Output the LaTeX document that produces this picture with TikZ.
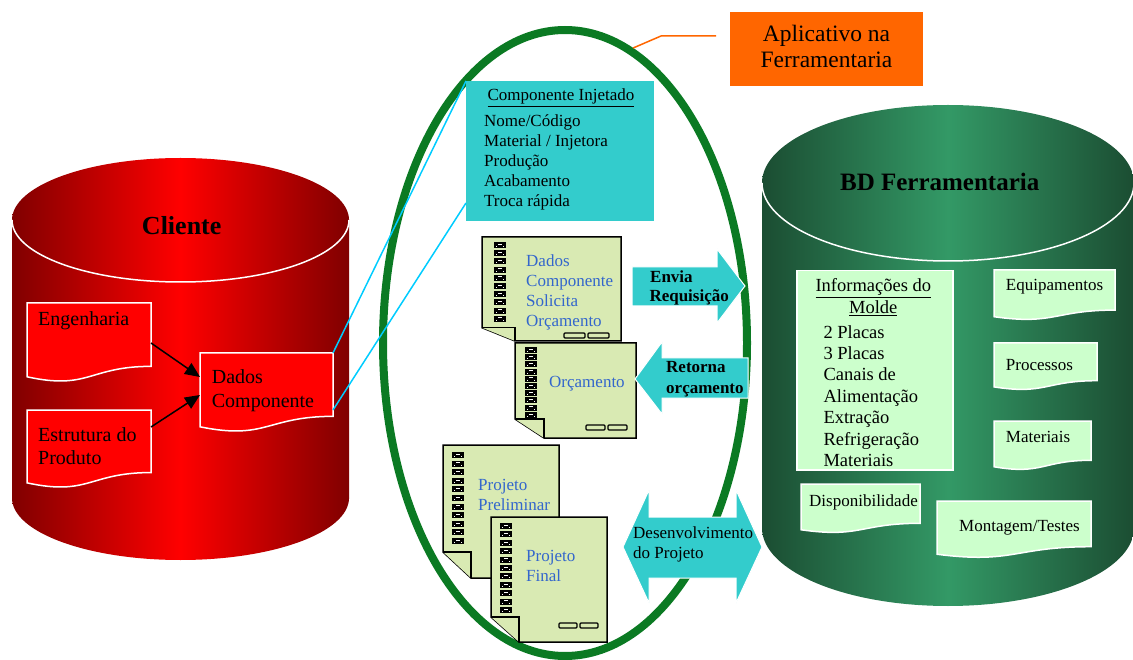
\documentclass[tikz,border=0pt]{standalone}
\usepackage{fontspec}
\setmainfont{Liberation Serif}
\usetikzlibrary{arrows.meta,shapes.geometric}
\definecolor{dkred}{RGB}{128,0,0}
\definecolor{brred}{RGB}{255,0,0}
\definecolor{dkgreen}{RGB}{27,77,50}
\definecolor{mdgreen}{RGB}{51,153,102}
\definecolor{ringgreen}{RGB}{11,122,35}
\definecolor{cyanfill}{RGB}{51,204,204}
\definecolor{linkcyan}{RGB}{0,204,255}
\definecolor{orangefill}{RGB}{255,102,0}
\definecolor{docgreen}{RGB}{217,234,179}
\definecolor{mintfill}{RGB}{204,255,204}
\definecolor{bluetext}{RGB}{51,102,204}
\newcommand\fsz[1]{\fontsize{#1}{#1}\selectfont}
% wave-bottom document: style, x1, y1, x2, y2
\newcommand\wavedoc[5]{%
  \path[#1] (#2,#3) -- (#4,#3) -- (#4,{#3+0.802*(#5-#3)})
    .. controls ({(#2+#4)/2},{#3+0.802*(#5-#3)}) and ({(#2+#4)/2},{#3+1.107*(#5-#3)}) ..
    (#2,{#3+0.934*(#5-#3)}) -- cycle;}
% folded-corner page: x1, y1, x2, y2, xf, yf
\newcommand\folddoc[6]{%
  \path[fdoc] (#1,#2) -- (#3,#2) -- (#3,#4) -- (#5,#4) -- (#1,#6) -- cycle;
  \path[fdoc] (#1,#6) -- (#5,#6) -- (#5,#4);}
% rack of small blocks: x, y0, n, spacing
\newcommand\rack[4]{%
  \foreach \k in {1,...,#3}{%
    \fill[black] (#1,{#2+(\k-1)*#4}) rectangle ++(12,6);
    \draw[white,line width=0.6] ({#1+4},{#2+(\k-1)*#4+2}) -- ++(4,0);
    \fill[white] ({#1+2},{#2+(\k-1)*#4+4}) rectangle ++(1,1);
    \fill[white] ({#1+9},{#2+(\k-1)*#4+4}) rectangle ++(1,1);}}
% two small tabs: x, y, width
\newcommand\tabs[3]{%
  \draw[fdoc,line width=1.2,rounded corners=1] (#1,#2) rectangle ++(#3,5);
  \draw[fdoc,line width=1.2,rounded corners=1] ({#1+#3+3},#2) rectangle ++(#3,5);}
\begin{document}
\begin{tikzpicture}[x=1pt,y=-1pt,
  txt/.style={inner sep=0,anchor=base west,font=\fsz{17}},
  ctxt/.style={txt,anchor=base},
  redcyl/.style={left color=dkred,right color=dkred,middle color=brred},
  bdcyl/.style={left color=dkgreen,right color=dkgreen,middle color=mdgreen},
  reddoc/.style={fill=brred,draw=white,line width=1.5},
  mintdoc/.style={fill=mintfill,draw=white,line width=1.5},
  fdoc/.style={fill=docgreen,draw=black,line width=1.5,line join=miter},
  bigarrow/.style={fill=cyanfill,draw=white,line width=1},
  link/.style={linkcyan,line width=1.5},
  flow/.style={-{Triangle[length=15pt,width=13pt]},line width=1.5,black},
  blue/.style={txt,text=bluetext}]
\useasboundingbox (0,0) rectangle (1133,660);

% ---------------- Cliente cylinder
\shade[redcyl] (12,220) rectangle (349,498);
\shade[redcyl] (180.5,498) ellipse[x radius=168.5,y radius=62];
\shade[redcyl] (180.5,220) ellipse[x radius=168.5,y radius=62];
\draw[white,line width=1.5] (12,220) arc[start angle=180,end angle=0,x radius=168.5,y radius=62];
\node[ctxt,font=\bfseries\fsz{26}] (cliente) at (181.7,235) {Cliente};

\wavedoc{reddoc}{27}{303}{151}{382}
\node[txt,font=\fsz{20}] (eng) at (38,325.7) {Engenharia};
\wavedoc{reddoc}{27}{410}{151}{488}
\node[txt,font=\fsz{20}] (est1) at (38,441.7) {Estrutura do};
\node[txt,font=\fsz{20}] (est2) at (38,464.5) {Produto};
\wavedoc{reddoc}{200}{353}{333}{432}
\node[txt,font=\fsz{20}] (dad1) at (211.7,383.3) {Dados};
\node[txt,font=\fsz{20}] (dad2) at (211.7,407.7) {Componente};

\coordinate (engE) at (151,343);
\coordinate (estE) at (151,427);
\coordinate (dadW1) at (200,377);
\coordinate (dadW2) at (200,395);
\coordinate (dadNE) at (333,353);
\coordinate (dadE) at (333,410);
\draw[flow] (engE) -- (dadW1);
\draw[flow] (estE) -- (dadW2);

% ---------------- BD cylinder
\shade[bdcyl] (762,183) rectangle (1134,528);
\shade[bdcyl] (948,528) ellipse[x radius=186,y radius=78];
\shade[bdcyl] (948,183) ellipse[x radius=186,y radius=78];
\draw[white,line width=1.5] (762,183) arc[start angle=180,end angle=0,x radius=186,y radius=78];
\node[ctxt,font=\bfseries\fsz{25}] (bd) at (939.7,191) {BD Ferramentaria};

\node[fill=mintfill,draw=white,line width=1.5,minimum width=156,minimum height=199,anchor=north west,inner sep=0] (molde) at (796,270) {};
\node[ctxt,font=\fsz{18.5}] (m0) at (873.3,291.7) {\underline{Informações do}};
\node[ctxt,font=\fsz{18.5}] (m00) at (873.3,313.3) {\underline{Molde}};
\foreach \t [count=\i] in {2 Placas,3 Placas,Canais de,Alimentação,Extração,Refrigeração,Materiais}
  \node[txt,font=\fsz{18.5}] (m\i) at (823.3,{316.8+21.4*\i}) {\t};

\wavedoc{mintdoc}{994}{270}{1115}{320}
\node[txt] (equip) at (1005.7,290.7) {Equipamentos};
\wavedoc{mintdoc}{994}{343}{1097}{390}
\node[txt] (proc) at (1005.7,370.7) {Processos};
\wavedoc{mintdoc}{994}{421}{1091}{470}
\node[txt] (mat) at (1005.7,442.3) {Materiais};
\wavedoc{mintdoc}{801}{484}{920}{533}
\node[txt] (disp) at (809,506) {Disponibilidade};
\wavedoc{mintdoc}{937}{501}{1091}{558}
\node[txt] (mont) at (959,531) {Montagem/Testes};

% ---------------- Aplicativo ellipse
\node[ellipse,draw=ringgreen,line width=8,minimum width=364,minimum height=626,inner sep=0] (app) at (565,343) {};

% Componente Injetado box
\node[fill=cyanfill,minimum width=188,minimum height=140,anchor=north west,inner sep=0] (inj) at (466,81) {};
\coordinate (injlow) at (466,203);
\draw[link] (dadNE) -- (inj.north west);
\draw[link] (dadE) -- (injlow);
\node[ctxt] (inj0) at (561,100.7) {\underline{Componente Injetado}};
\foreach \t [count=\i] in {Nome/Código,Material / Injetora,Produção,Acabamento,Troca rápida}
  \node[txt] (inj\i) at (484,{106.8+19.85*\i}) {\t};

% documents inside the ellipse
\folddoc{482}{237}{621}{341}{515}{327.7}
\rack{494}{242}{10}{8.2}
\tabs{564}{333}{21}
\node[blue] (d1) at (526,266.7) {Dados};
\node[blue] (d2) at (526,286.7) {Componente};
\node[blue] (d3) at (526,306.7) {Solicita};
\node[blue] (d4) at (526,326.7) {Orçamento};

\folddoc{515}{343}{636}{438}{544}{419}
\rack{525}{347}{10}{7.2}
\tabs{586}{425}{19}
\node[blue] (orc) at (549,388) {Orçamento};

\folddoc{443}{445}{559}{578}{471}{552}
\rack{452}{452}{11}{8.6}
\node[blue] (pp1) at (478,490) {Projeto};
\node[blue] (pp2) at (478,510) {Preliminar};

\folddoc{491}{517}{607}{642}{519}{617}
\rack{500}{523}{11}{8.4}
\tabs{559}{623}{18}
\node[blue] (pf1) at (526,561.7) {Projeto};
\node[blue] (pf2) at (526,581.7) {Final};

% big cyan arrows
\path[bigarrow] (632,267) -- (717,267) -- (717,249) -- (745,286) -- (717,323) -- (717,306) -- (632,306) -- cycle;
\node[txt,font=\bfseries\fsz{17}] (env1) at (650,282.7) {Envia};
\node[txt,font=\bfseries\fsz{17}] (env2) at (649.3,301.7) {Requisição};

\path[bigarrow] (748,358) -- (662,358) -- (662,342) -- (635,379) -- (662,414) -- (662,398) -- (748,398) -- cycle;
\node[txt,font=\bfseries\fsz{17}] (ret1) at (666,373) {Retorna};
\node[txt,font=\bfseries\fsz{17}] (ret2) at (666,393) {orçamento};

\path[bigarrow] (623,547) -- (649,490) -- (649,517) -- (736,517) -- (736,490) -- (762,547) -- (736,603) -- (736,578) -- (649,578) -- (649,603) -- cycle;
\node[txt] (dev1) at (633,538) {Desenvolvimento};
\node[txt] (dev2) at (633,558) {do Projeto};

% ---------------- Aplicativo label
\node[fill=orangefill,minimum width=193,minimum height=74,anchor=north west,inner sep=0] (appbox) at (730,12) {};
\node[ctxt,font=\fsz{23.5}] (ap1) at (826.5,41.7) {Aplicativo na};
\node[ctxt,font=\fsz{23.5}] (ap2) at (826.5,68) {Ferramentaria};
\coordinate (ldr) at (716,36);
\coordinate (ldrbend) at (661,36);
\draw[orangefill,line width=1.5] (ldr) -- (ldrbend) -- (app.77);
\end{tikzpicture}
\end{document}
